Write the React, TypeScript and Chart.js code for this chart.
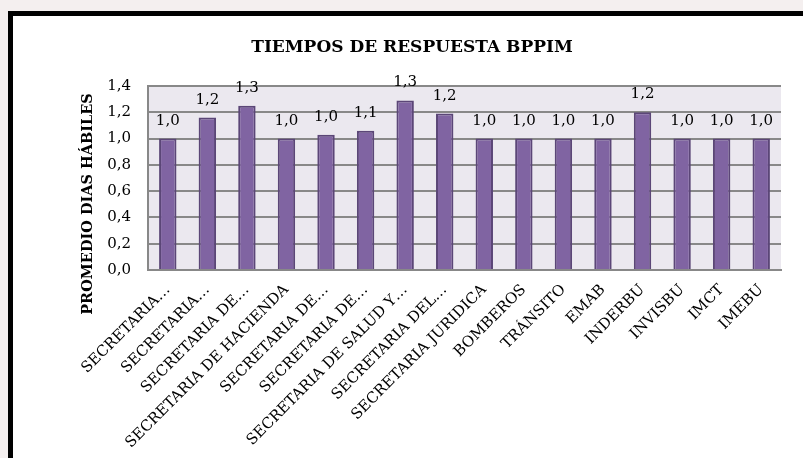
import React, { useEffect, useRef } from "react";
import { Chart, registerables } from "chart.js";

Chart.register(...registerables);

const chartTitle = "TIEMPOS DE RESPUESTA BPPIM";
const yAxisTitle = "PROMEDIO DIAS HÁBILES";
const categories = [
  "SECRETARIA…",
  "SECRETARIA…",
  "SECRETARIA DE…",
  "SECRETARIA DE HACIENDA",
  "SECRETARIA DE…",
  "SECRETARIA DE…",
  "SECRETARIA DE SALUD Y…",
  "SECRETARIA DEL…",
  "SECRETARIA JURIDICA",
  "BOMBEROS",
  "TRÁNSITO",
  "EMAB",
  "INDERBU",
  "INVISBU",
  "IMCT",
  "IMEBU",
];
const values = [1.0, 1.16, 1.25, 1.0, 1.03, 1.06, 1.29, 1.19, 1.0, 1.0, 1.0, 1.0, 1.2, 1.0, 1.0, 1.0];
const yMin = 0;
const yMax = 1.4;
const yStep = 0.2;

const fmt = (v: number) => v.toFixed(1).replace(".", ",");

const SERIF = "'DejaVu Serif', 'Liberation Serif', serif";
const GRID = "#888888";

export default function App() {
  const ref = useRef<HTMLCanvasElement | null>(null);

  useEffect(() => {
    document.body.style.margin = "0";
    const canvas = ref.current!;
    const extras = {
      id: "extras",
      beforeDraw(chart: any) {
        const { ctx, chartArea } = chart;
        ctx.save();
        ctx.fillStyle = "#ebe8ef";
        ctx.fillRect(chartArea.left, chartArea.top, chartArea.right - chartArea.left, chartArea.bottom - chartArea.top);
        ctx.restore();
      },
      afterDraw(chart: any) {
        const { ctx } = chart;
        ctx.save();
        ctx.fillStyle = "#000";
        ctx.textAlign = "center";
        ctx.textBaseline = "middle";
        ctx.font = `bold 17px ${SERIF}`;
        ctx.fillText(chartTitle, 399, 32);
        ctx.translate(75, 188);
        ctx.rotate(-Math.PI / 2);
        ctx.font = `bold 14.5px ${SERIF}`;
        ctx.fillText(yAxisTitle, 0, 0);
        ctx.restore();
      },
      afterDatasetsDraw(chart: any) {
        const { ctx } = chart;
        const meta = chart.getDatasetMeta(0);
        ctx.save();
        ctx.fillStyle = "#000";
        ctx.font = `15px ${SERIF}`;
        ctx.textAlign = "center";
        ctx.textBaseline = "alphabetic";
        meta.data.forEach((bar: any, i: number) => {
          ctx.fillText(fmt(values[i]), bar.x, bar.y - 14);
        });
        ctx.restore();
      },
    };

    const chart = new Chart(canvas, {
      type: "bar",
      data: {
        labels: categories,
        datasets: [
          {
            data: values,
            backgroundColor: "#8064a2",
            borderColor: "#5b4677",
            borderWidth: 2,
            barPercentage: 0.44,
            categoryPercentage: 1,
          },
        ],
      },
      options: {
        responsive: false,
        animation: false,
        devicePixelRatio: 1,
        layout: { padding: { top: 70, right: 22, left: 0, bottom: 0 } },
        plugins: {
          legend: { display: false },
          title: { display: false },
          tooltip: { enabled: false },
        },
        scales: {
          x: {
            afterFit(scale: any) {
              scale.height = 188;
            },
            grid: { display: false, drawTicks: false },
            border: { display: true, color: GRID, width: 2 },
            ticks: {
              autoSkip: false,
              maxRotation: 45,
              minRotation: 45,
              padding: 11,
              color: "#000",
              font: { family: SERIF, size: 15 },
            },
          },
          y: {
            min: yMin,
            max: yMax,
            afterFit(scale: any) {
              scale.width = 135;
            },
            grid: { color: GRID, lineWidth: 2, drawTicks: false },
            border: { display: true, color: GRID, width: 2 },
            ticks: {
              stepSize: yStep,
              padding: 17,
              color: "#000",
              font: { family: SERIF, size: 15 },
              callback: (v: any) => fmt(Number(v)),
            },
          },
        },
      },
      plugins: [extras],
    });
    return () => chart.destroy();
  }, []);

  return (
    <div style={{ position: "relative", width: 803, height: 458, overflow: "hidden", background: "#f4efef" }}>
      <div
        style={{
          position: "absolute",
          left: 8,
          top: 11,
          width: 900,
          height: 500,
          background: "#fff",
          borderLeft: "5px solid #000",
          borderTop: "5px solid #000",
        }}
      />
      <canvas
        ref={ref}
        width={790}
        height={442}
        style={{ position: "absolute", left: 13, top: 16, width: 790, height: 442 }}
      />
    </div>
  );
}
